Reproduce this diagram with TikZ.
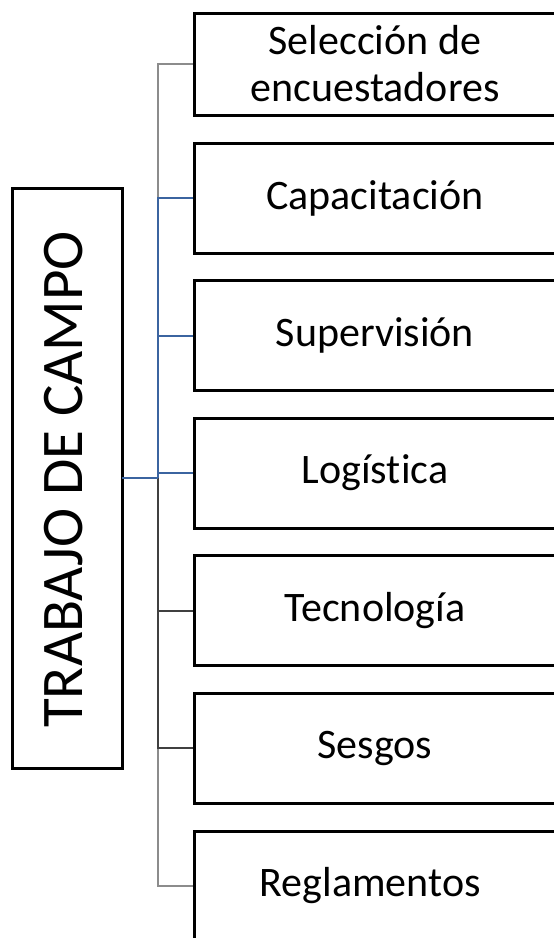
\documentclass[tikz,border=0pt]{standalone}
\usepackage{fontspec}
\setmainfont{Carlito}[Ligatures=NoCommon]
\usepackage{xcolor}
\usetikzlibrary{positioning}

\definecolor{linkgray}{HTML}{8C8C8C}
\definecolor{linkdark}{HTML}{404040}
\definecolor{linkblue}{HTML}{3B64A0}

\begin{document}
\begin{tikzpicture}[x=1pt,y=-1pt,
    item/.style={draw,line width=3pt,minimum width=362pt,minimum height=110pt,
      inner sep=0pt,align=center,font=\fontsize{42}{47}\selectfont},
    link/.style={line width=2pt,linkgray},
    bluelink/.style={line width=2pt,linkblue}]
          \useasboundingbox (0,0) rectangle (554,938);
          \clip (0,0) rectangle (554,938);

          % Main box
          \draw[line width=3pt] (12,188) rectangle (122,768);
          \node[rotate=90,anchor=base,inner sep=0pt,font=\fontsize{59}{59}\selectfont]
              (main) at (82,479.5) {TRABAJO DE CAMPO};
          \coordinate (mainr) at (122,478);
          \coordinate (jn) at (158,478);

          % Right boxes
          \node[item,minimum height=102pt] (b1) at (375,64) {Selección de\\encuestadores};
          \foreach \i/\y/\t in {
              2/198/Capacitación,
              3/335.5/Supervisión,
              4/473/Logística,
              5/610.5/Tecnología,
              6/748/Sesgos,
              7/886/Reglamentos
          } {
              \node[item] (b\i) at (375,\y) {\t};
          }

          % Connectors
          \draw[link] (b2.west -| jn) |- (b1.west);
          \draw[link] (jn) |- (b7.west);
          \draw[link,linkdark] (jn) |- (b5.west);
          \draw[link,linkdark] (jn) |- (b6.west);
          \foreach \i in {2,3,4} {
              \draw[bluelink] (jn) |- (b\i.west);
          }
          \draw[bluelink] (mainr) -- (jn);
      \end{tikzpicture}
\end{document}
